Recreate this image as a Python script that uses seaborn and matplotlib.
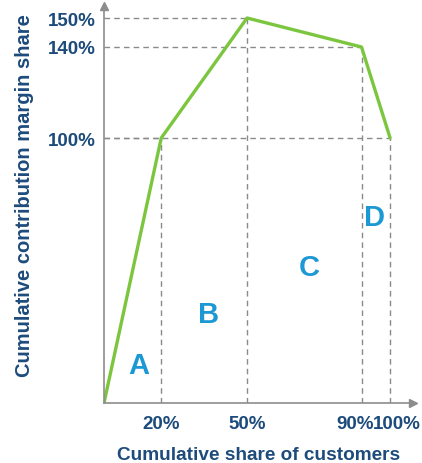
import numpy as np
import matplotlib
matplotlib.use("Agg")
import matplotlib.pyplot as plt
import matplotlib.transforms as mtransforms
import seaborn as sns

# Cumulative share of customers (%) vs cumulative contribution margin share (%)
customer_share = [0, 20, 50, 90, 100]
margin_share = [0, 100, 150, 140, 100]

x_ticks = [20, 50, 90, 100]
x_tick_labels = ["20%", "50%", "90%", "100%"]
y_ticks = [100, 140, 150]
y_tick_labels = ["100%", "140%", "150%"]

segment_labels = ["A", "B", "C", "D"]
segment_x = [12.2, 36.4, 71.7, 94.4]
segment_y = [14.5, 33.5, 51.5, 70]

sns.set_theme(style="white")
plt.rcParams["font.family"] = ["Liberation Sans", "DejaVu Sans"]

text_color = "#1d4b7b"
letter_color = "#1c98d4"
line_color = "#7cc63f"
guide_color = "#8a8a8a"

fig = plt.figure(figsize=(4.22, 4.64), dpi=100)
ax = fig.add_axes([104 / 422, 60 / 464, 309 / 422, 397 / 464])

# schematic (non-linear) y axis as in the original drawing
y_pts = [0, 100, 140, 150, 160]
y_pix = [0, 265, 356, 385, 397]
fwd = lambda v: np.interp(v, y_pts, y_pix)
inv = lambda v: np.interp(v, y_pix, y_pts)
ax.set_yscale("function", functions=(fwd, inv))

# dashed guide lines to each breakpoint
ax.vlines(customer_share[1:], 0, margin_share[1:], colors=guide_color,
          linestyles=(0, (4, 3)), linewidth=1)
ax.hlines(margin_share[1:], 0, customer_share[1:], colors=guide_color,
          linestyles=(0, (4, 3)), linewidth=1)

sns.lineplot(x=customer_share, y=margin_share, color=line_color, linewidth=2.4, ax=ax)

for lab, lx, ly in zip(segment_labels, segment_x, segment_y):
    ax.text(lx, ly, lab, color=letter_color, fontsize=21, fontweight="bold",
            ha="center", va="center")

ax.set_xlim(0, 108)
ax.set_ylim(0, 160)
ax.set_xticks(x_ticks)
ax.set_xticklabels(x_tick_labels)
ax.set_yticks(y_ticks)
ax.set_yticklabels(y_tick_labels)
ax.minorticks_off()
ax.tick_params(axis="both", length=0, labelsize=13.5, labelcolor=text_color)
ax.tick_params(axis="x", pad=9)
ax.tick_params(axis="y", pad=6)
for t in ax.get_xticklabels() + ax.get_yticklabels():
    t.set_fontweight("bold")

# keep "90%" and "100%" apart like the original
xt = ax.get_xticklabels()
xt[2].set_transform(xt[2].get_transform() + mtransforms.ScaledTranslation(-6 / 100, 0, fig.dpi_scale_trans))
xt[3].set_transform(xt[3].get_transform() + mtransforms.ScaledTranslation(7 / 100, 0, fig.dpi_scale_trans))

for s in ["top", "right"]:
    ax.spines[s].set_visible(False)
for s in ["left", "bottom"]:
    ax.spines[s].set_color("#8c8c8c")
    ax.spines[s].set_linewidth(1.2)
ax.plot(1, 0, ">", color="#8c8c8c", markersize=6, transform=ax.get_yaxis_transform(), clip_on=False)
ax.plot(0, 1, "^", color="#8c8c8c", markersize=6, transform=ax.get_xaxis_transform(), clip_on=False)

ax.set_xlabel("Cumulative share of customers", fontsize=13.7, fontweight="bold",
              color=text_color, labelpad=10)
ax.set_ylabel("Cumulative contribution margin share", fontsize=14.5, fontweight="bold",
              color=text_color, labelpad=8)
ax.yaxis.set_label_coords(-0.225, 0.526)

fig.savefig("out.png", dpi=100)
